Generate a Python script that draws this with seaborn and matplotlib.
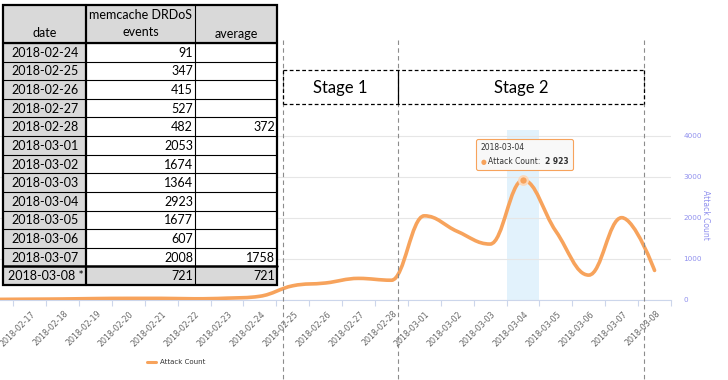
import numpy as np
import matplotlib
matplotlib.use('Agg')
import matplotlib.pyplot as plt
import matplotlib.transforms as mtransforms
from matplotlib.path import Path
from matplotlib.patches import PathPatch, Rectangle
from matplotlib.lines import Line2D
from matplotlib.offsetbox import TextArea, HPacker, VPacker, AnnotationBbox
import seaborn as sns

# chart data (first date is only partly visible at the left edge)
dates = ['2018-02-16', '2018-02-17', '2018-02-18', '2018-02-19', '2018-02-20', '2018-02-21',
         '2018-02-22', '2018-02-23', '2018-02-24', '2018-02-25', '2018-02-26', '2018-02-27',
         '2018-02-28', '2018-03-01', '2018-03-02', '2018-03-03', '2018-03-04', '2018-03-05',
         '2018-03-06', '2018-03-07', '2018-03-08']
attack_count = [15, 20, 25, 35, 40, 40, 30, 45, 91, 347, 415, 527, 482,
                2053, 1674, 1364, 2923, 1677, 607, 2008, 721]
hover_date = '2018-03-04'
y_ticks = [0, 1000, 2000, 3000, 4000]

# table data
table_dates = ['2018-02-24', '2018-02-25', '2018-02-26', '2018-02-27', '2018-02-28',
               '2018-03-01', '2018-03-02', '2018-03-03', '2018-03-04', '2018-03-05',
               '2018-03-06', '2018-03-07', '2018-03-08 *']
table_events = [91, 347, 415, 527, 482, 2053, 1674, 1364, 2923, 1677, 607, 2008, 721]
table_average = ['', '', '', '', '372', '', '', '', '', '', '', '1758', '721']

stage_labels = ['Stage 1', 'Stage 2']
stage_edges = [7.7, 11.2, 18.68]   # in category units

ORANGE = '#f7a35c'
AXIS_BLUE = '#9090ee'

sns.set_style('white')
plt.rcParams['font.family'] = ['DejaVu Sans']

fig = plt.figure(figsize=(7.28, 3.8), dpi=100)
ax = fig.add_axes([0, 80 / 380, 671 / 728, 170 / 380])

x = np.arange(len(dates)) - 1   # 2018-02-17 sits at 0

# highlighted category
hi = dates.index(hover_date) - 1
ax.axvspan(hi - 0.5, hi + 0.5, color='#e2f2fc', zorder=0, lw=0)

# highcharts-like spline through the points
smooth = 1.5
px, py = np.array(x, float), np.array(attack_count, float)
n = len(px)
lc = [(px[0], py[0])] * n
rc = [(px[0], py[0])] * n
for i in range(1, n - 1):
    lx = (smooth * px[i] + px[i - 1]) / (smooth + 1)
    ly = (smooth * py[i] + py[i - 1]) / (smooth + 1)
    rx = (smooth * px[i] + px[i + 1]) / (smooth + 1)
    ry = (smooth * py[i] + py[i + 1]) / (smooth + 1)
    corr = (ry - ly) * (rx - px[i]) / (rx - lx) + py[i] - ry
    ly += corr
    ry += corr
    if ly > py[i - 1] and ly > py[i]:
        ly = max(py[i - 1], py[i]); ry = 2 * py[i] - ly
    elif ly < py[i - 1] and ly < py[i]:
        ly = min(py[i - 1], py[i]); ry = 2 * py[i] - ly
    if ry > py[i + 1] and ry > py[i]:
        ry = max(py[i + 1], py[i]); ly = 2 * py[i] - ry
    elif ry < py[i + 1] and ry < py[i]:
        ry = min(py[i + 1], py[i]); ly = 2 * py[i] - ry
    lc[i] = (lx, ly)
    rc[i] = (rx, ry)
verts = [(px[0], py[0])]
codes = [Path.MOVETO]
for i in range(1, n):
    c1 = rc[i - 1] if i > 1 else (px[0], py[0])
    c2 = lc[i] if i < n - 1 else (px[i], py[i])
    verts += [c1, c2, (px[i], py[i])]
    codes += [Path.CURVE4] * 3
ax.add_patch(PathPatch(Path(verts, codes), fill=False, edgecolor=ORANGE, lw=2.6,
                       capstyle='round', joinstyle='round', zorder=3))

# hovered point
sns.scatterplot(x=[hi], y=[attack_count[hi + 1]], ax=ax, s=38, color=ORANGE,
                edgecolor='#fbd9bb', linewidth=1.6, zorder=4, legend=False)

ax.set_xlim(-0.9, len(dates) - 1.5)
ax.set_ylim(0, 4146)

ax.yaxis.tick_right()
ax.set_yticks(y_ticks)
ax.set_yticklabels([str(v) for v in y_ticks], color=AXIS_BLUE, fontsize=5.2)
ax.tick_params(axis='y', length=0, pad=9)
for lab in ax.get_yticklabels():
    lab.set_horizontalalignment('left')
ax.yaxis.set_label_position('right')
ax.set_ylabel('Attack Count', color=AXIS_BLUE, fontsize=5.5, rotation=270, labelpad=6)
ax.grid(axis='y', color='#e6e6e6', lw=0.8)
ax.grid(axis='x', visible=False)

ax.set_xticks(x[1:])
ax.set_xticklabels(dates[1:], rotation=45, ha='right', va='center',
                   rotation_mode='anchor', fontsize=5.7, color='#666666')
ax.set_xticks(np.arange(-0.5, len(dates) - 1, 1.0), minor=True)
ax.tick_params(axis='x', which='major', length=0, pad=9)
ax.tick_params(axis='x', which='minor', length=4, color='#ccd6eb', width=0.8, bottom=True)
for lab in ax.get_xticklabels():
    lab.set_transform(lab.get_transform() + mtransforms.ScaledTranslation(4 / 100, 0, fig.dpi_scale_trans))

for s in ['top', 'left', 'right']:
    ax.spines[s].set_visible(False)
ax.spines['bottom'].set_color('#ccd6eb')
ax.spines['bottom'].set_linewidth(0.8)

# tooltip
t_date = TextArea('2018-03-04', textprops=dict(fontsize=5.5, color='#333333'))
t_dot = TextArea('\u25cf', textprops=dict(fontsize=4.8, color=ORANGE))
t_name = TextArea('Attack Count: ', textprops=dict(fontsize=5.5, color='#333333'))
t_val = TextArea('2 923', textprops=dict(fontsize=5.5, color='#333333', fontweight='bold'))
row = HPacker(children=[t_dot, t_name, t_val], pad=0, sep=1.5, align='baseline')
box = VPacker(children=[t_date, row], pad=0, sep=3, align='left')
ab = AnnotationBbox(box, (hi, attack_count[hi + 1]), xybox=(1, 18.5), boxcoords='offset points',
                    frameon=True, pad=0.45,
                    bboxprops=dict(boxstyle='round,pad=0.3,rounding_size=0.15',
                                   facecolor='#f8f8f8', edgecolor=ORANGE, lw=0.8),
                    zorder=6)
ax.add_artist(ab)

# legend
leg = fig.legend(handles=[Line2D([0], [0], color=ORANGE, lw=2.2)], labels=['Attack Count'],
                 loc='center', bbox_to_anchor=(176 / 728, 1 - 362 / 380), frameon=False,
                 fontsize=5, handlelength=1.3, handletextpad=0.5)
for t in leg.get_texts():
    t.set_color('#333333')

# overlay in pixel coordinates
ov = fig.add_axes([0, 0, 1, 1], facecolor='none')
ov.set_xlim(0, 728)
ov.set_ylim(380, 0)
ov.axis('off')

# stage boundary lines and boxes
bt = mtransforms.blended_transform_factory(ax.transData, ov.transData)
for e in stage_edges:
    ov.add_line(Line2D([e, e], [40, 380], transform=bt, color='#8c8c8c', lw=0.8,
                       ls=(0, (4, 3)), zorder=2))
box_top, box_bot = 70, 104
ov.add_line(Line2D([stage_edges[0], stage_edges[-1]], [box_top, box_top], transform=bt,
                   color='black', lw=0.9, ls=(0, (3, 2))))
ov.add_line(Line2D([stage_edges[0], stage_edges[-1]], [box_bot, box_bot], transform=bt,
                   color='black', lw=0.9, ls=(0, (3, 2))))
for e in [stage_edges[0], stage_edges[-1]]:
    ov.add_line(Line2D([e, e], [box_top, box_bot], transform=bt, color='black', lw=0.9,
                       ls=(0, (3, 2))))
ov.add_line(Line2D([stage_edges[1], stage_edges[1]], [box_top, box_bot], transform=bt,
                   color='black', lw=0.9))
for k, lab in enumerate(stage_labels):
    xm = (stage_edges[k] + stage_edges[k + 1]) / 2
    ov.text(xm, (box_top + box_bot) / 2 + 1, lab, transform=bt, ha='center', va='center',
            fontsize=12, family='Lato', color='black')

# table
col_edges = [3, 86, 195, 277]
head_top, head_bot, tab_bot = 5, 43, 285
row_h = (tab_bot - head_bot) / len(table_dates)
GRAY = '#d9d9d9'
ov.add_patch(Rectangle((col_edges[0], head_top), col_edges[-1] - col_edges[0], head_bot - head_top,
                       facecolor=GRAY, edgecolor='none', zorder=5))
for r in range(len(table_dates)):
    y0 = head_bot + r * row_h
    last = r == len(table_dates) - 1
    for c in range(3):
        fc = GRAY if (c == 0 or last) else 'white'
        ov.add_patch(Rectangle((col_edges[c], y0), col_edges[c + 1] - col_edges[c], row_h,
                               facecolor=fc, edgecolor='none', zorder=5))
    yc = y0 + row_h / 2 + 0.5
    kw = dict(fontsize=9, family='Lato', color='black', va='center', zorder=7)
    ov.text((col_edges[0] + col_edges[1]) / 2 + 1, yc, table_dates[r], ha='center', **kw)
    ov.text(col_edges[2] - 2, yc, str(table_events[r]), ha='right', **kw)
    ov.text(col_edges[3] - 2, yc, table_average[r], ha='right', **kw)
    # row border
    lw = 1.8 if last else 0.8
    ov.add_line(Line2D([col_edges[0], col_edges[-1]], [y0, y0], color='black', lw=lw, zorder=6))
hkw = dict(fontsize=9, family='Lato', color='black', va='center', ha='center', zorder=7)
ov.text((col_edges[0] + col_edges[1]) / 2, 33, 'date', **hkw)
ov.text((col_edges[1] + col_edges[2]) / 2, 15, 'memcache DRDoS', **hkw)
ov.text((col_edges[1] + col_edges[2]) / 2, 32, 'events', **hkw)
ov.text((col_edges[2] + col_edges[3]) / 2, 34, 'average', **hkw)
ov.add_line(Line2D([col_edges[0], col_edges[-1]], [head_bot, head_bot], color='black', lw=1.6, zorder=6))
ov.add_line(Line2D([col_edges[1], col_edges[1]], [head_top, tab_bot], color='black', lw=1.6, zorder=6))
ov.add_line(Line2D([col_edges[2], col_edges[2]], [head_top, tab_bot], color='black', lw=0.8, zorder=6))
ov.add_patch(Rectangle((col_edges[0], head_top), col_edges[-1] - col_edges[0], tab_bot - head_top,
                       facecolor='none', edgecolor='black', lw=1.6, zorder=6))

fig.savefig('out.png', dpi=100)
